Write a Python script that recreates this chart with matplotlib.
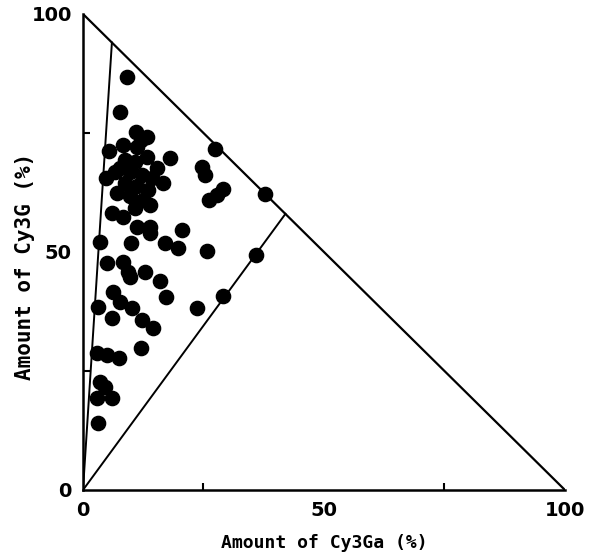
import numpy as np
import matplotlib.pyplot as plt

# amounts (%)
cy3ga = [9.1, 7.7, 11.0, 13.3, 8.3, 5.4, 11.2, 13.3, 18.0, 15.4, 4.8, 16.6, 7.1,
         6.0, 8.3, 11.2, 13.9, 13.9, 20.5, 17.0, 19.7, 3.5, 10.0, 8.3, 5.0, 9.3,
         12.9, 9.8, 16.0, 17.2, 6.2, 3.1, 7.7, 10.2, 6.0, 12.2, 14.5, 12.0, 2.9,
         5.0, 7.5, 3.5, 4.6, 2.9, 6.0, 3.1,
         27.4, 24.7, 25.3, 29.0, 27.8, 26.1, 37.8, 25.7, 35.9, 29.0, 23.7,
         8.7, 10.8, 7.7, 9.8, 12.2, 14.3, 8.7, 11.2, 13.5, 9.8, 12.4, 10.8, 13.9,
         6.6, 12.0]
cy3g = [86.8, 79.4, 75.2, 74.2, 72.5, 71.2, 72.1, 70.0, 69.7, 67.6, 65.5, 64.5, 62.4,
        58.2, 57.4, 55.3, 55.3, 54.0, 54.6, 51.9, 50.8, 52.1, 51.9, 47.9, 47.7, 45.8,
        45.8, 44.7, 43.9, 40.5, 41.6, 38.4, 39.5, 38.2, 36.1, 35.7, 34.0, 29.8, 28.8,
        28.4, 27.7, 22.7, 21.6, 19.3, 19.3, 14.1,
        71.6, 67.9, 66.2, 63.2, 62.0, 60.9, 62.2, 50.2, 49.4, 40.8, 38.2,
        69.3, 68.9, 67.6, 66.8, 66.2, 65.5, 64.5, 63.9, 63.0, 61.8, 60.9, 59.2, 59.9,
        66.8, 73.5]

# ends of the two boundary lines drawn from the origin
bound_x = [6, 42]
bound_y = [94, 58]

fig = plt.figure(figsize=(5.94, 5.57), dpi=100)
ax = fig.add_axes([0.1397, 0.1203, 0.8114, 0.8546])

ax.plot([0, 100], [100, 0], color='black', lw=1.6)
for bx, by in zip(bound_x, bound_y):
    ax.plot([0, bx], [0, by], color='black', lw=1.4)

ax.scatter(cy3ga, cy3g, s=105, color='black', zorder=3, clip_on=False)

ax.set_xlim(0, 100)
ax.set_ylim(0, 100)
for s in ['top', 'right']:
    ax.spines[s].set_visible(False)
for s in ['left', 'bottom']:
    ax.spines[s].set_linewidth(1.8)

ax.set_xticks([0, 50, 100])
ax.set_yticks([0, 50, 100])
ax.set_xticks([25, 50, 75], minor=True)
ax.set_yticks([25, 50, 75], minor=True)
ax.tick_params(which='major', length=0, pad=8, labelsize=14)
ax.tick_params(which='minor', direction='in', length=5, width=1.5)
for lab in ax.get_xticklabels() + ax.get_yticklabels():
    lab.set_fontweight('bold')

ax.set_xlabel('Amount of Cy3Ga (%)', family='DejaVu Sans Mono', fontweight='bold',
              fontsize=13, labelpad=10)
ax.set_ylabel('Amount of Cy3G (%)', family='DejaVu Sans Mono', fontweight='bold',
              fontsize=15)
ax.yaxis.set_label_coords(-0.10, 0.47)

fig.savefig('out.png', dpi=100)
